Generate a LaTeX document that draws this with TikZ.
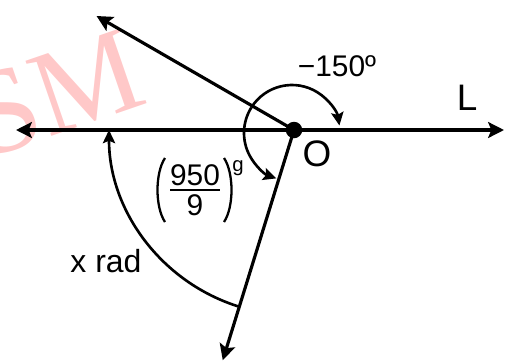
\documentclass[tikz,border=0pt]{standalone}
\usepackage{fontspec}
\setmainfont{Liberation Sans}
\newfontfamily\wmfont{Liberation Serif}
\usetikzlibrary{arrows.meta,calc}
\definecolor{wmpink}{HTML}{FFC8C8}
\tikzset{
  mainline/.style={line width=1.8pt},
  arcline/.style={line width=1.5pt},
  bigtip/.style={-{Stealth[length=9pt,width=9pt,inset=1.8pt]}},
  smalltip/.style={-{Stealth[length=7.5pt,width=7pt,inset=1.4pt]}},
  dotnode/.style={circle,fill=black,inner sep=0pt,minimum size=0.33cm},
  lbl/.style={inner sep=0pt,font=\fontsize{21pt}{24pt}\selectfont},
  midlbl/.style={inner sep=0pt,font=\fontsize{17pt}{20pt}\selectfont},
}
\begin{document}
\begin{tikzpicture}[x=0.02cm,y=0.02cm]
\useasboundingbox (0,0) rectangle (506,363);
% watermark
\node[text=wmpink,rotate=19,inner sep=0pt,font=\wmfont\fontsize{69pt}{69pt}\selectfont] (wm) at (55,269) {SM};
% points
\coordinate (O) at (294,233);
\coordinate (C) at (292,230);
\coordinate (Lt) at (504,233);
\coordinate (Rt) at (16,233);
\coordinate (U) at ($(O)+(150:228)$);
\coordinate (D) at ($(O)+(252.8:241)$);
% lines
\draw[mainline,{Stealth[length=9pt,width=9pt,inset=1.8pt]}-{Stealth[length=9pt,width=9pt,inset=1.8pt]}] (Rt) -- (Lt);
\draw[mainline,bigtip] (O) -- (U);
\draw[mainline,bigtip] (O) -- (D);
% arcs
\draw[arcline,smalltip] ($(C)+(148:48)$) arc[start angle=148,end angle=9,radius=48];
\draw[arcline,smalltip] ($(C)+(148:48)$) arc[start angle=148,end angle=251,radius=48];
\draw[arcline,smalltip] ($(O)+(252.8:185)$) arc[start angle=252.8,end angle=180,radius=185];
\node[dotnode] (dot) at (O) {};
% labels
\node[midlbl] (m150) at (337,297) {−150º};
\node[lbl] (Llbl) at (467,265) {L};
\node[lbl] (Olbl) at (317,209) {O};
\node[inner sep=0pt,anchor=base,font=\fontsize{18.2pt}{20pt}\selectfont] (xrad) at (106,91) {x rad};
% fraction
\node[inner sep=0pt,anchor=base,font=\fontsize{17pt}{20pt}\selectfont] (num) at (195,178) {950};
\node[inner sep=0pt,anchor=base,font=\fontsize{17pt}{20pt}\selectfont] (den) at (195,148) {9};
\draw[line width=1.2pt] (170,173) -- (220,173);
\draw[line width=1.3pt] (165,205) .. controls (155,190) and (155,156) .. (165,141);
\draw[line width=1.3pt] (224,205) .. controls (234,190) and (234,156) .. (224,141);
\node[inner sep=0pt,anchor=base,font=\fontsize{11.6pt}{14pt}\selectfont] (gsup) at (238,192) {g};
\end{tikzpicture}
\end{document}
